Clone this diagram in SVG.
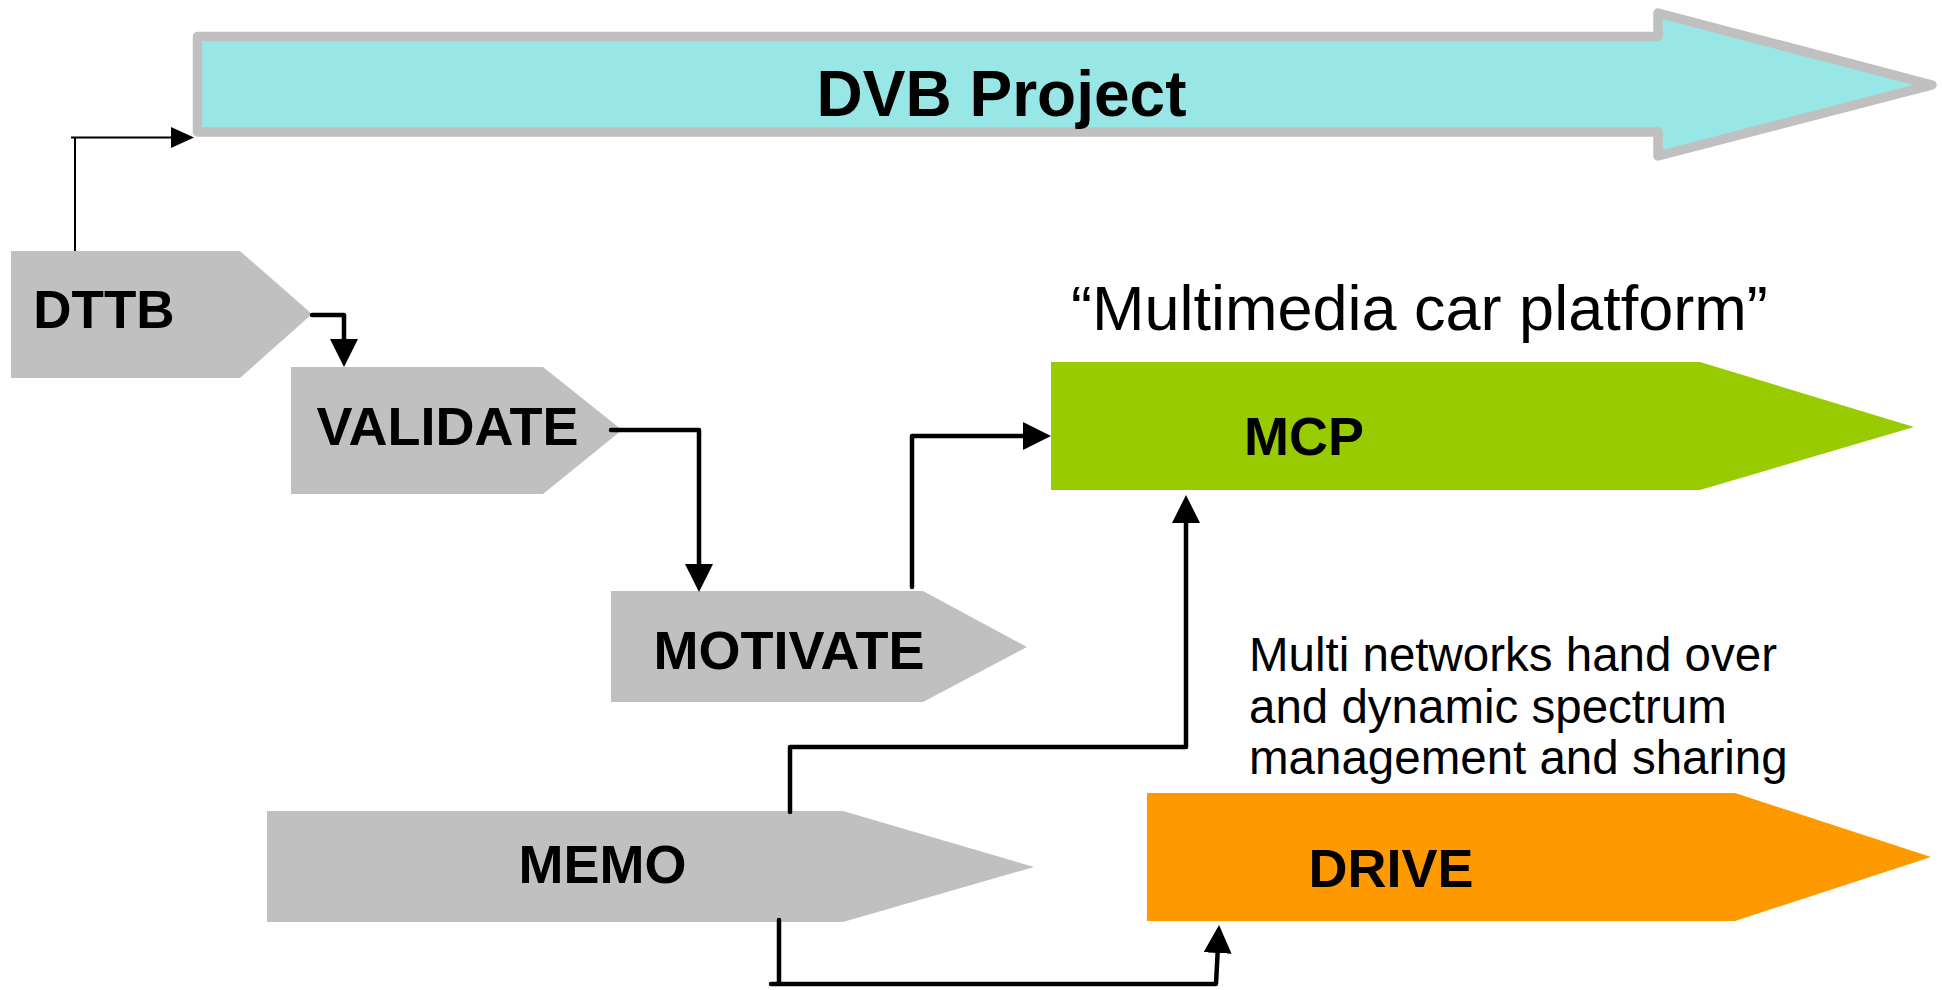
<svg xmlns="http://www.w3.org/2000/svg" width="1942" height="990" viewBox="0 0 1942 990">
<style>
.gray{fill:#C0C0C0}
.lbl{font-family:"Liberation Sans",Arial,sans-serif;font-weight:bold;font-size:54px;fill:#000;text-anchor:middle}
.note{font-family:"Liberation Sans",Arial,sans-serif;font-size:47.5px;fill:#000}
.conn{fill:none;stroke:#000;stroke-width:4.5;stroke-linejoin:round;stroke-linecap:round}
.thin{fill:none;stroke:#000;stroke-width:2}
</style>
<defs>
<marker id="big" markerUnits="userSpaceOnUse" markerWidth="28" markerHeight="28" refX="0" refY="14" orient="auto" viewBox="0 0 28 28">
<path d="M0,0 L28,14 L0,28 z" fill="#000"/>
</marker>
<marker id="small" markerUnits="userSpaceOnUse" markerWidth="23" markerHeight="21" refX="0" refY="10.5" orient="auto" viewBox="0 0 23 21">
<path d="M0,0 L23,10.5 L0,21 z" fill="#000"/>
</marker>
</defs>
<rect width="1942" height="990" fill="#fff"/>
<g id="dvb">
<polygon points="197.5,36.5 1658,36.5 1658,13 1932,85 1658,156 1658,132 197.5,132" fill="#99E6E6" stroke="#C0C0C0" stroke-width="9.5" stroke-linejoin="round"/>
<text x="1001.5" y="116" class="lbl" style="font-size:64px">DVB Project</text>
</g>
<g id="dttb">
<polygon class="gray" points="11,251 240,251 312,314 240,378 11,378"/>
<text x="104" y="328" class="lbl" style="font-size:53px">DTTB</text>
</g>
<g id="validate">
<polygon class="gray" points="291,367 543,367 622,430 543,494 291,494"/>
<text x="447.5" y="445" class="lbl">VALIDATE</text>
</g>
<g id="motivate">
<polygon class="gray" points="611,591 923,591 1027,647 923,702 611,702"/>
<text x="789" y="669" class="lbl">MOTIVATE</text>
</g>
<g id="mcp">
<text x="1071" y="330" style="font-family:'Liberation Sans',Arial,sans-serif;font-size:63px;fill:#000">“Multimedia car platform”</text>
<polygon points="1051,362 1700,362 1914,427 1700,490 1051,490" fill="#99CC00"/>
<text x="1304" y="455" class="lbl">MCP</text>
</g>
<g id="memo">
<polygon class="gray" points="267,811 843,811 1034,867 843,922 267,922"/>
<text x="602.5" y="883" class="lbl">MEMO</text>
</g>
<g id="drive">
<text class="note"><tspan x="1249" y="671">Multi networks hand over</tspan><tspan x="1249" y="723">and dynamic spectrum</tspan><tspan x="1249" y="774">management and sharing</tspan></text>
<polygon points="1147,793 1735,793 1931,857 1735,921 1147,921" fill="#FF9900"/>
<text x="1391" y="887" class="lbl">DRIVE</text>
</g>
<g id="connectors">
<path class="thin" d="M75,251 L75,137.5 M71,137.5 L171,137.5" marker-end="url(#small)"/>
<path class="conn" d="M312,315 L344,315 L344,339" marker-end="url(#big)"/>
<path class="conn" d="M611,430 L699,430 L699,564" marker-end="url(#big)"/>
<path class="conn" d="M912,587 L912,436 L1023,436" marker-end="url(#big)"/>
<path class="conn" d="M790,812 L790,747 L1186,747 L1186,523" marker-end="url(#big)"/>
<path class="conn" d="M779,920 L779,984 M771,984 L1216,984 L1217.6,953" marker-end="url(#big)"/>
</g>
</svg>
